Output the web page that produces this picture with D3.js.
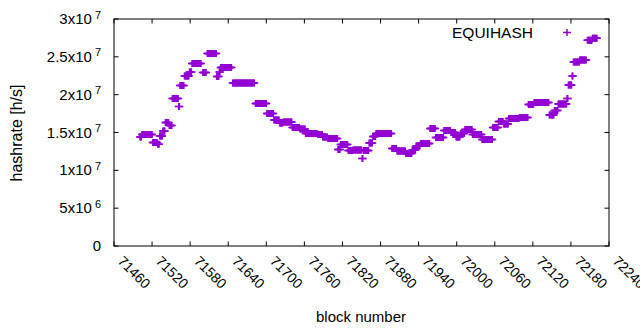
<!DOCTYPE html>
<html>
<head>
<meta charset="utf-8">
<script src="https://cdn.jsdelivr.net/npm/d3@7"></script>
<style>
  body { margin: 0; background: #fff; }
  svg text { font-family: "Liberation Sans", Arial, sans-serif; fill: #000; }
</style>
</head>
<body>
<svg width="640" height="330"></svg>
<script>
// hashrate is constant between difficulty changes, so it is kept as runs of blocks
var runStart = [71501,71504,71521,71529,71532,71537,71541,71547,71552,71562,71564,71571,71579,71583,71600,71607,71622,71626,71628,71647,
  71683,71701,71712,71721,71727,71741,71753,71762,71781,71789,71797,71813,71817,71829,71837,71851,71853,71862,71868,71873,
  71898,71906,71920,71930,71936,71943,71958,71967,71980,71991,71999,72006,72013,72025,72040,72057,72066,72074,72082,72099,
  72113,72122,72146,72154,72160,72174,72176,72182,72184,72194,72206,72214];
var runEnd = [71503,71520,71528,71531,71536,71540,71546,71551,71561,71563,71570,71578,71582,71597,71605,71621,71625,71627,71645,71681,
  71700,71711,71720,71726,71740,71752,71761,71780,71788,71796,71812,71816,71828,71836,71850,71852,71861,71867,71872,71897,
  71905,71919,71929,71935,71942,71957,71966,71979,71990,71998,72005,72012,72024,72039,72056,72065,72073,72081,72098,72112,
  72121,72145,72153,72159,72173,72175,72181,72183,72193,72204,72213,72221];
var runValue = [14.40,14.73,13.68,13.45,14.54,15.20,16.32,15.92,19.49,18.44,21.21,22.47,22.99,24.12,22.93,25.44,22.40,22.99,23.59,21.54,
  18.83,17.51,16.65,16.25,16.39,15.66,15.46,14.87,14.73,14.40,14.21,12.75,13.41,12.62,12.69,11.56,12.62,13.61,14.47,14.87,
  12.88,12.55,12.22,12.69,13.20,13.55,15.53,14.34,15.26,15.00,14.40,14.87,15.40,14.73,14.07,15.66,16.45,16.12,16.85,16.98,
  18.70,18.96,17.31,17.91,18.77,19.49,21.28,22.47,24.32,24.58,27.20,27.45]; // x10^6 h/s

var xTicks = [71460,71520,71580,71640,71700,71760,71820,71880,71940,72000,72060,72120,72180,72240];
var yTicks = [0,5e6,1e7,1.5e7,2e7,2.5e7,3e7];
var yTickBase = ["0","5x10","1x10","1.5x10","2x10","2.5x10","3x10"];
var yTickExp = ["","6","7","7","7","7","7"];

var pts = [];
runStart.forEach(function(s,k){
  for(var b=s; b<=runEnd[k]; b++) pts.push({b:b, v:runValue[k]*1e6});
});

var svg = d3.select("svg");
var L=114, R=609, T=19, B=246, tk=4.5, col="#9400d3";
var x = d3.scaleLinear().domain([71460,72240]).range([L,R]);
var y = d3.scaleLinear().domain([0,3e7]).range([B,T]);

function cross(g, cx, cy){
  g.append("path").attr("d","M"+(cx-4)+","+cy+"H"+(cx+4)+"M"+cx+","+(cy-3.5)+"V"+(cy+3.5))
   .attr("stroke",col).attr("stroke-width",1.5).attr("fill","none");
}

var gp = svg.append("g");
pts.forEach(function(d){ cross(gp, x(d.b), y(d.v)); });

// frame with mirrored inward ticks
var ga = svg.append("g").attr("stroke","#000").attr("stroke-width",1);
xTicks.forEach(function(t){
  ga.append("line").attr("x1",x(t)).attr("x2",x(t)).attr("y1",B).attr("y2",B-tk);
  ga.append("line").attr("x1",x(t)).attr("x2",x(t)).attr("y1",T).attr("y2",T+tk);
});
yTicks.forEach(function(t){
  ga.append("line").attr("x1",L).attr("x2",L+tk).attr("y1",y(t)).attr("y2",y(t));
  ga.append("line").attr("x1",R).attr("x2",R-tk).attr("y1",y(t)).attr("y2",y(t));
});
ga.append("rect").attr("x",L).attr("y",T).attr("width",R-L).attr("height",B-T).attr("fill","none");

yTicks.forEach(function(t,k){
  var tx = svg.append("text").attr("x",101).attr("y",y(t)+5).attr("text-anchor","end")
    .attr("font-size",15).text(yTickBase[k]);
  if(yTickExp[k]) tx.append("tspan").attr("dx",3).attr("dy",-5.5).attr("font-size",11).text(yTickExp[k]);
});

xTicks.forEach(function(t){
  svg.append("text").attr("transform","translate("+(x(t)+3)+",262) rotate(45)")
    .attr("font-size",14).text(t);
});

svg.append("text").attr("transform","translate(22,133) rotate(-90)").attr("text-anchor","middle")
  .attr("font-size",16).text("hashrate [h/s]");
svg.append("text").attr("x",361).attr("y",322).attr("text-anchor","middle")
  .attr("font-size",15).text("block number");

svg.append("text").attr("x",533).attr("y",38).attr("text-anchor","end").attr("font-size",15.5).text("EQUIHASH");
cross(svg, 567, 32.5);
</script>
</body>
</html>
